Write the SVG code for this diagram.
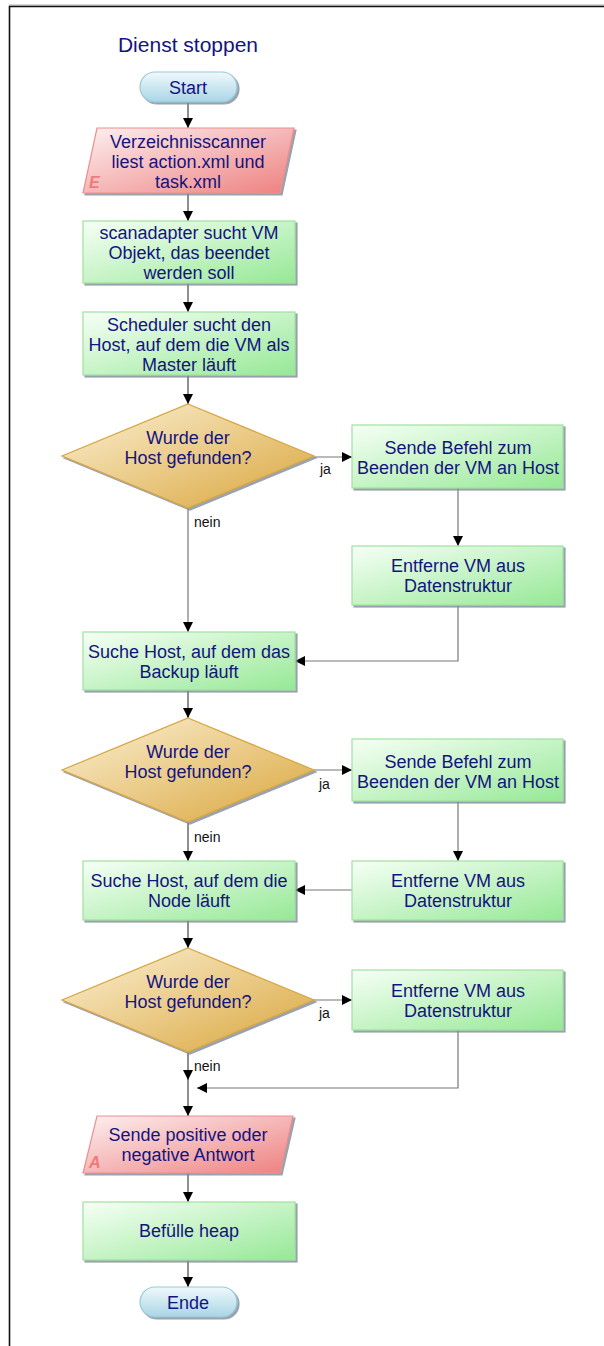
<svg xmlns="http://www.w3.org/2000/svg" width="604" height="1346" viewBox="0 0 604 1346">
  <defs>
    <linearGradient id="gGreen" x1="0" y1="0" x2="1" y2="1">
      <stop offset="0" stop-color="#f6fff6"/>
      <stop offset="1" stop-color="#96e896"/>
    </linearGradient>
    <linearGradient id="gRed" x1="0" y1="0" x2="1" y2="1">
      <stop offset="0" stop-color="#fdf0f0"/>
      <stop offset="1" stop-color="#ee8080"/>
    </linearGradient>
    <linearGradient id="gGold" x1="0" y1="0" x2="1" y2="1">
      <stop offset="0" stop-color="#fcf1d6"/>
      <stop offset="1" stop-color="#d9a53a"/>
    </linearGradient>
    <linearGradient id="gBlue" x1="0" y1="0" x2="0" y2="1">
      <stop offset="0" stop-color="#f0f9fc"/>
      <stop offset="1" stop-color="#a9d5e5"/>
    </linearGradient>
    <filter id="shadow" x="-5%" y="-5%" width="115%" height="120%">
      <feDropShadow dx="2" dy="2" stdDeviation="0.5" flood-color="#7f8a99" flood-opacity="0.8"/>
    </filter>
    <marker id="arrow" viewBox="0 0 10 10" refX="10" refY="5" markerWidth="10" markerHeight="10" markerUnits="userSpaceOnUse" orient="auto">
      <path d="M0,0 L10,5 L0,10 z" fill="#000"/>
    </marker>
  </defs>
  <style>
    .t { font-family: "Liberation Sans", Arial, sans-serif; font-size: 18px; fill: #14147e; text-anchor: middle; }
    .title { font-family: "Liberation Sans", Arial, sans-serif; font-size: 21px; fill: #14147e; text-anchor: middle; }
    .lbl { font-family: "Liberation Sans", Arial, sans-serif; font-size: 14px; fill: #111; }
    .mark { font-family: "Liberation Sans", Arial, sans-serif; font-size: 16px; font-weight: bold; font-style: italic; fill: #f07a7a; }
    .proc { fill: url(#gGreen); stroke: #9ee29e; stroke-width: 1.2; filter: url(#shadow); }
    .io { fill: url(#gRed); stroke: #ef8e8e; stroke-width: 1.2; filter: url(#shadow); }
    .dec { fill: url(#gGold); stroke: #d6a63e; stroke-width: 1.2; filter: url(#shadow); }
    .term { fill: url(#gBlue); stroke: #98c8da; stroke-width: 1.2; filter: url(#shadow); }
    .c { fill: none; stroke: #444; stroke-width: 1.2; marker-end: url(#arrow); }
    .c2 { fill: none; stroke: #777; stroke-width: 1.2; marker-end: url(#arrow); }
  </style>

  <rect x="0" y="0" width="604" height="1346" fill="#fff"/>
  <!-- page frame -->
  <line x1="9" y1="5" x2="604" y2="5" stroke="#aaa" stroke-width="1"/>
  <path d="M9.5,1346 V6.5 H604" fill="none" stroke="#111" stroke-width="1.6"/>

  <text class="title" x="188" y="52">Dienst stoppen</text>

  <!-- connectors -->
  <g id="connectors">
    <line class="c" x1="188" y1="102" x2="188" y2="128"/>
    <line class="c" x1="188" y1="193" x2="188" y2="221"/>
    <line class="c" x1="188" y1="283" x2="188" y2="312"/>
    <line class="c" x1="188" y1="375" x2="188" y2="404"/>
    <line class="c2" x1="314" y1="457" x2="352" y2="457"/>
    <line class="c2" x1="458" y1="488" x2="458" y2="546"/>
    <path class="c2" d="M458,605 V661 H295"/>
    <line class="c2" x1="188" y1="508" x2="188" y2="632"/>
    <line class="c" x1="188" y1="690" x2="188" y2="718"/>
    <line class="c2" x1="314" y1="770" x2="352" y2="770"/>
    <line class="c2" x1="458" y1="801" x2="458" y2="861"/>
    <line class="c2" x1="352" y1="890" x2="295" y2="890"/>
    <line class="c" x1="188" y1="822" x2="188" y2="861"/>
    <line class="c" x1="188" y1="920" x2="188" y2="948"/>
    <line class="c2" x1="314" y1="1000" x2="352" y2="1000"/>
    <line class="c" x1="188" y1="1052" x2="188" y2="1080"/>
    <path class="c2" d="M458,1030 V1088 H197"/>
    <line class="c" x1="188" y1="1080" x2="188" y2="1116"/>
    <line class="c" x1="188" y1="1173" x2="188" y2="1202"/>
    <line class="c" x1="188" y1="1260" x2="188" y2="1287"/>
    <text class="lbl" x="320" y="474">ja</text>
    <text class="lbl" x="194" y="527">nein</text>
    <text class="lbl" x="319" y="789">ja</text>
    <text class="lbl" x="194" y="842">nein</text>
    <text class="lbl" x="319" y="1018">ja</text>
    <text class="lbl" x="194" y="1071">nein</text>
  </g>

  <g id="start">
    <rect class="term" x="140" y="72" width="97" height="30" rx="15"/>
    <text class="t" x="188" y="94">Start</text>
  </g>

  <g id="input">
    <polygon class="io" points="97,128 294,128 280,193 83,193"/>
    <text class="mark" x="89" y="188">E</text>
    <text class="t" x="188" y="148">Verzeichnisscanner</text>
    <text class="t" x="188" y="168">liest action.xml und</text>
    <text class="t" x="188" y="188">task.xml</text>
  </g>

  <g id="scanadapter">
    <rect class="proc" x="83" y="221" width="212" height="62"/>
    <text class="t" x="189" y="239">scanadapter sucht VM</text>
    <text class="t" x="189" y="259">Objekt, das beendet</text>
    <text class="t" x="189" y="279">werden soll</text>
  </g>

  <g id="scheduler">
    <rect class="proc" x="83" y="312" width="212" height="63"/>
    <text class="t" x="189" y="331">Scheduler sucht den</text>
    <text class="t" x="189" y="351">Host, auf dem die VM als</text>
    <text class="t" x="189" y="371">Master läuft</text>
  </g>

  <g id="decision1">
    <polygon class="dec" points="188,404 314,456 188,508 62,456"/>
    <text class="t" x="188" y="444">Wurde der</text>
    <text class="t" x="188" y="464">Host gefunden?</text>
  </g>

  <g id="stop1">
    <rect class="proc" x="352" y="425" width="211" height="63"/>
    <text class="t" x="458" y="454">Sende Befehl zum</text>
    <text class="t" x="458" y="474">Beenden der VM an Host</text>
  </g>

  <g id="remove1">
    <rect class="proc" x="352" y="546" width="211" height="59"/>
    <text class="t" x="458" y="572">Entferne VM aus</text>
    <text class="t" x="458" y="592">Datenstruktur</text>
  </g>

  <g id="backup">
    <rect class="proc" x="83" y="632" width="212" height="58"/>
    <text class="t" x="189" y="658">Suche Host, auf dem das</text>
    <text class="t" x="189" y="678">Backup läuft</text>
  </g>

  <g id="decision2">
    <polygon class="dec" points="188,718 314,770 188,822 62,770"/>
    <text class="t" x="188" y="758">Wurde der</text>
    <text class="t" x="188" y="778">Host gefunden?</text>
  </g>

  <g id="stop2">
    <rect class="proc" x="352" y="739" width="211" height="62"/>
    <text class="t" x="458" y="768">Sende Befehl zum</text>
    <text class="t" x="458" y="788">Beenden der VM an Host</text>
  </g>

  <g id="remove2">
    <rect class="proc" x="352" y="861" width="211" height="59"/>
    <text class="t" x="458" y="887">Entferne VM aus</text>
    <text class="t" x="458" y="907">Datenstruktur</text>
  </g>

  <g id="node">
    <rect class="proc" x="83" y="861" width="212" height="59"/>
    <text class="t" x="189" y="887">Suche Host, auf dem die</text>
    <text class="t" x="189" y="907">Node läuft</text>
  </g>

  <g id="decision3">
    <polygon class="dec" points="188,948 314,1000 188,1052 62,1000"/>
    <text class="t" x="188" y="988">Wurde der</text>
    <text class="t" x="188" y="1008">Host gefunden?</text>
  </g>

  <g id="remove3">
    <rect class="proc" x="352" y="970" width="211" height="60"/>
    <text class="t" x="458" y="997">Entferne VM aus</text>
    <text class="t" x="458" y="1017">Datenstruktur</text>
  </g>

  <g id="output">
    <polygon class="io" points="97,1116 293,1116 280,1173 83,1173"/>
    <text class="mark" x="89" y="1168">A</text>
    <text class="t" x="188" y="1141">Sende positive oder</text>
    <text class="t" x="188" y="1161">negative Antwort</text>
  </g>

  <g id="heap">
    <rect class="proc" x="83" y="1202" width="212" height="58"/>
    <text class="t" x="189" y="1237">Befülle heap</text>
  </g>

  <g id="end">
    <rect class="term" x="140" y="1287" width="97" height="30" rx="15"/>
    <text class="t" x="188" y="1309">Ende</text>
  </g>
</svg>
